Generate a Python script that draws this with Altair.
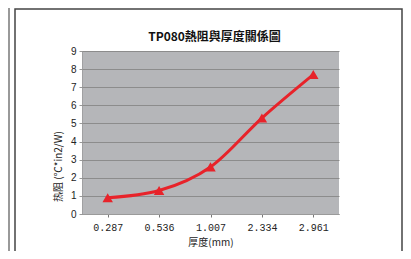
import altair as alt
import pandas as pd

thickness = ["0.287", "0.536", "1.007", "2.334", "2.961"]
resistance = [0.9, 1.3, 2.6, 5.3, 7.7]
title_text = ["TP080熱阻與厚度關係圖"]

df = pd.DataFrame({"thickness": thickness, "resistance": resistance})

W, H = 257, 163

x_enc = alt.X("thickness:O", sort=thickness,
              scale=alt.Scale(type="point", padding=0.5),
              axis=alt.Axis(title="厚度(mm)", labelAngle=0, labelFont="Liberation Mono",
                            labelFontSize=10, labelColor="#222", titleFont="Noto Sans CJK SC",
                            titleFontSize=10, titleFontWeight="normal", titleColor="#222",
                            titlePadding=5, domainColor="#9a9a9a", tickColor="#777",
                            tickSize=3, labelPadding=5, grid=False))
y_enc = alt.Y("resistance:Q", scale=alt.Scale(domain=[0, 9], nice=False),
              axis=alt.Axis(title="热阻 (℃*in2/W)", values=list(range(10)), tickCount=10,
                            labelFont="Liberation Sans", labelFontSize=10, labelColor="#222",
                            titleFont="Noto Sans CJK SC", titleFontSize=10,
                            titleFontWeight="normal", titleColor="#222",
                            titleAngle=270, titleX=-24, titleY=115, titleAlign="center",
                            titleBaseline="middle", domainColor="#8a8a8a", domainDash=[1, 1],
                            tickColor="#999", tickSize=3, labelPadding=3,
                            gridColor="#8c8c8c", gridWidth=1))

base = alt.Chart(df).encode(x=x_enc, y=y_enc)
line = base.mark_line(color="#e8232a", strokeWidth=3, interpolate="monotone")
pts = base.mark_point(shape="triangle-up", filled=True, color="#e8232a", size=110, opacity=1)

fr = alt.Chart(alt.Data(values=[{"t": title_text[0]}]))
frame = fr.mark_rect(fill="transparent", stroke="#444", strokeWidth=1.5).encode(
    x=alt.value(-67), x2=alt.value(320), y=alt.value(-42), y2=alt.value(240))
outer_line = fr.mark_rule(color="#777", strokeWidth=1.5).encode(
    x=alt.value(-73), y=alt.value(-60), y2=alt.value(240))
title = fr.mark_text(font="Noto Sans CJK TC", fontSize=12, fontWeight="bold", color="#111",
                     align="center", baseline="middle").encode(
    text="t:N", x=alt.value(W / 2 + 4), y=alt.value(-14))

chart = alt.layer(line, pts, frame, outer_line, title).properties(
    width=W, height=H,
    autosize=alt.AutoSizeParams(type="none"),
    padding={"left": 74, "top": 43, "right": 64, "bottom": 37},
    background="white",
).configure_view(fill="#b5b6b9", strokeWidth=0)

chart.save("out.html", embed_options={"renderer": "svg", "actions": False})
